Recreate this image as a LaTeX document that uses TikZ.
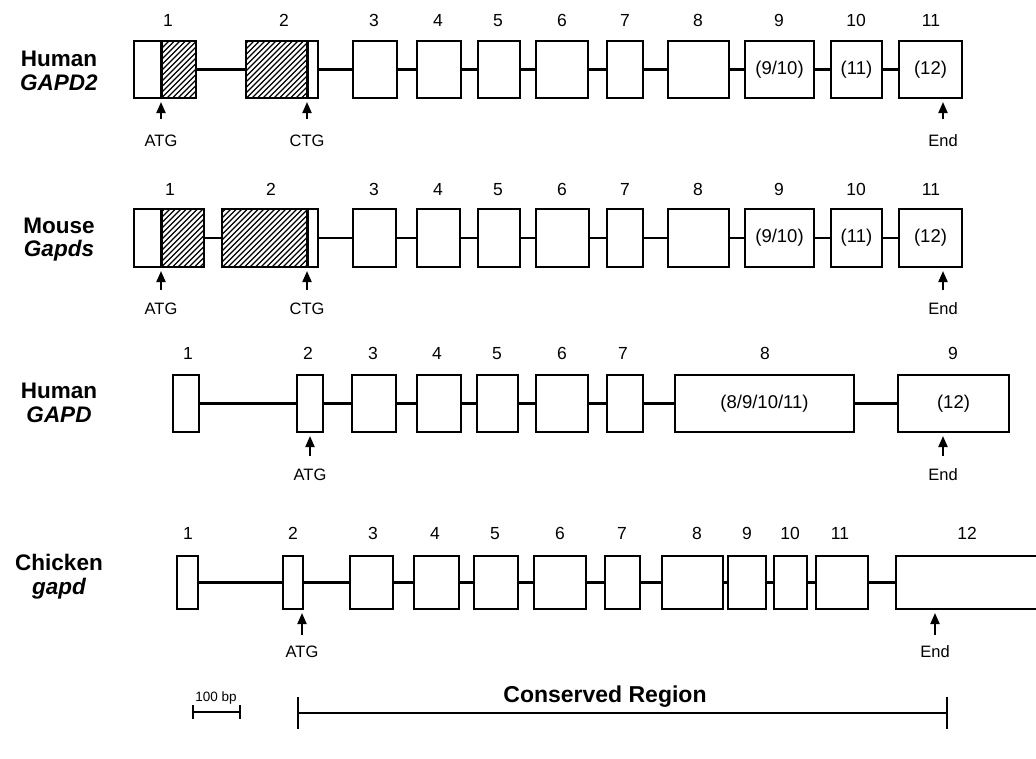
\documentclass[tikz,border=0pt]{standalone}
\usepackage{fontspec}
\setmainfont{Liberation Sans}
\usetikzlibrary{arrows.meta}
\tikzset{
  exon/.style={draw, line width=2pt, inner sep=0pt, font=\fontsize{18.5}{20}\selectfont},
  backbone/.style={line width=2.2pt},
  hatchline/.style={line width=1.2pt},
  divider/.style={line width=3pt},
  num/.style={inner sep=0pt, anchor=base, font=\fontsize{17.5}{20}\selectfont},
  site/.style={inner sep=0pt, font=\fontsize{16.5}{18}\selectfont},
  rowlab/.style={inner sep=0pt, anchor=base, font=\fontsize{22.5}{26}\selectfont\bfseries},
  pointer/.style={line width=2pt, -{Triangle[width=9pt,length=11pt]}},
  scalebar/.style={line width=2pt},
}
\newcommand\exon[6]{\node[exon, minimum width={(#3-#2)*1pt}, minimum height={(#5-#4)*1pt}] (#1) at ({(#2+#3)/2},{(#4+#5)/2}) {#6};}
\newcommand\hatchbox[4]{\begin{scope}\clip (#1,#3) rectangle (#2,#4);
  \foreach \k in {0,...,30}{\draw[hatchline] ({#1-60+5.5*\k},#4) -- ++(60,-60);}\end{scope}}
\begin{document}
\begin{tikzpicture}[x=1pt,y=-1pt]
\useasboundingbox (0,0) rectangle (1036,758);

% ---------------- Row 1: Human GAPD2 ----------------
\node[rowlab] (h1a) at (59,66) {Human};
\node[rowlab] (h1b) at (59,90) {\itshape GAPD2};
\hatchbox{161}{196}{41}{98}
\hatchbox{246}{307}{41}{98}
\exon{a1}{134}{196}{41}{98}{}
\exon{a2}{246}{318}{41}{98}{}
\exon{a3}{353}{397}{41}{98}{}
\exon{a4}{417}{461}{41}{98}{}
\exon{a5}{478}{520}{41}{98}{}
\exon{a6}{536}{588}{41}{98}{}
\exon{a7}{607}{643}{41}{98}{}
\exon{a8}{668}{729}{41}{98}{}
\exon{a9}{745}{814}{41}{98}{(9/10)}
\exon{a10}{831}{882}{41}{98}{(11)}
\exon{a11}{899}{962}{41}{98}{(12)}
\draw[divider] (161,41) -- (161,98);
\draw[divider] (307,41) -- (307,98);
\foreach \i/\j in {a1/a2,a2/a3,a3/a4,a4/a5,a5/a6,a6/a7,a7/a8,a8/a9,a9/a10,a10/a11}
  \draw[backbone] (\i.east) -- (\j.west);
\foreach \n/\x in {1/168,2/284,3/374,4/438,5/498,6/562,7/625,8/698,9/779,10/856,11/931}
  \node[num] (na\n) at (\x,26.5) {\n};
\coordinate (pa1t) at (161,102); \coordinate (pa1s) at (161,119);
\coordinate (pa2t) at (307,102); \coordinate (pa2s) at (307,119);
\coordinate (pa3t) at (943,102); \coordinate (pa3s) at (943,119);
\draw[pointer] (pa1s) -- (pa1t);
\draw[pointer] (pa2s) -- (pa2t);
\draw[pointer] (pa3s) -- (pa3t);
\node[site] (sa1) at (161,141) {ATG};
\node[site] (sa2) at (307,141) {CTG};
\node[site] (sa3) at (943,141) {End};

% ---------------- Row 2: Mouse Gapds ----------------
\node[rowlab] (h2a) at (59,233) {Mouse};
\node[rowlab] (h2b) at (59,256) {\itshape Gapds};
\hatchbox{161}{204}{209}{267}
\hatchbox{222}{307}{209}{267}
\exon{b1}{134}{204}{209}{267}{}
\exon{b2}{222}{318}{209}{267}{}
\exon{b3}{353}{396}{209}{267}{}
\exon{b4}{417}{460}{209}{267}{}
\exon{b5}{478}{520}{209}{267}{}
\exon{b6}{536}{589}{209}{267}{}
\exon{b7}{607}{643}{209}{267}{}
\exon{b8}{668}{729}{209}{267}{}
\exon{b9}{745}{814}{209}{267}{(9/10)}
\exon{b10}{831}{882}{209}{267}{(11)}
\exon{b11}{899}{962}{209}{267}{(12)}
\draw[divider] (161,209) -- (161,267);
\draw[divider] (307,209) -- (307,267);
\foreach \i/\j in {b1/b2,b2/b3,b3/b4,b4/b5,b5/b6,b6/b7,b7/b8,b8/b9,b9/b10,b10/b11}
  \draw[backbone] (\i.east) -- (\j.west);
\foreach \n/\x in {1/170,2/271,3/374,4/438,5/498,6/562,7/625,8/698,9/779,10/856,11/931}
  \node[num] (nb\n) at (\x,195.5) {\n};
\coordinate (pb1t) at (161,271); \coordinate (pb1s) at (161,290);
\coordinate (pb2t) at (307,271); \coordinate (pb2s) at (307,290);
\coordinate (pb3t) at (943,271); \coordinate (pb3s) at (943,290);
\draw[pointer] (pb1s) -- (pb1t);
\draw[pointer] (pb2s) -- (pb2t);
\draw[pointer] (pb3s) -- (pb3t);
\node[site] (sb1) at (161,309) {ATG};
\node[site] (sb2) at (307,309) {CTG};
\node[site] (sb3) at (943,309) {End};

% ---------------- Row 3: Human GAPD ----------------
\node[rowlab] (h3a) at (59,398) {Human};
\node[rowlab] (h3b) at (59,422) {\itshape GAPD};
\exon{c1}{173}{199}{375}{432}{}
\exon{c2}{297}{323}{375}{432}{}
\exon{c3}{352}{396}{375}{432}{}
\exon{c4}{417}{461}{375}{432}{}
\exon{c5}{477}{518}{375}{432}{}
\exon{c6}{536}{588}{375}{432}{}
\exon{c7}{607}{643}{375}{432}{}
\exon{c8}{675}{854}{375}{432}{(8/9/10/11)}
\exon{c9}{898}{1009}{375}{432}{(12)}
\foreach \i/\j in {c1/c2,c2/c3,c3/c4,c4/c5,c5/c6,c6/c7,c7/c8,c8/c9}
  \draw[backbone] (\i.east) -- (\j.west);
\foreach \n/\x in {1/188,2/308,3/373,4/437,5/497,6/562,7/623,8/765,9/953}
  \node[num] (nc\n) at (\x,359.5) {\n};
\coordinate (pc1t) at (310,436); \coordinate (pc1s) at (310,456);
\coordinate (pc2t) at (943,436); \coordinate (pc2s) at (943,456);
\draw[pointer] (pc1s) -- (pc1t);
\draw[pointer] (pc2s) -- (pc2t);
\node[site] (sc1) at (310,475) {ATG};
\node[site] (sc2) at (943,475) {End};

% ---------------- Row 4: Chicken gapd ----------------
\node[rowlab] (h4a) at (59,570) {Chicken};
\node[rowlab] (h4b) at (59,594) {\itshape gapd};
\exon{d1}{177}{198}{556}{609}{}
\exon{d2}{283}{303}{556}{609}{}
\exon{d3}{350}{393}{556}{609}{}
\exon{d4}{414}{459}{556}{609}{}
\exon{d5}{474}{518}{556}{609}{}
\exon{d6}{534}{586}{556}{609}{}
\exon{d7}{605}{640}{556}{609}{}
\exon{d8}{662}{723}{556}{609}{}
\exon{d9}{728}{766}{556}{609}{}
\exon{d10}{774}{807}{556}{609}{}
\exon{d11}{816}{868}{556}{609}{}
\coordinate (d12w) at (896,582.5);
\draw[line width=2pt] (1037,556) -- (896,556) -- (896,609) -- (1037,609);
\foreach \i/\j in {d1/d2,d2/d3,d3/d4,d4/d5,d5/d6,d6/d7,d7/d8,d8/d9,d9/d10,d10/d11}
  \draw[backbone] (\i.east) -- (\j.west);
\draw[backbone] (d11.east) -- (d12w);
\foreach \n/\x in {1/188,2/293,3/373,4/435,5/495,6/560,7/622,8/697,9/747,10/790,11/840,12/967}
  \node[num] (nd\n) at (\x,539.5) {\n};
\coordinate (pd1t) at (302,613); \coordinate (pd1s) at (302,635);
\coordinate (pd2t) at (935,613); \coordinate (pd2s) at (935,635);
\draw[pointer] (pd1s) -- (pd1t);
\draw[pointer] (pd2s) -- (pd2t);
\node[site] (sd1) at (302,652) {ATG};
\node[site] (sd2) at (935,652) {End};

% ---------------- Scale and conserved region ----------------
\node[inner sep=0pt, font=\fontsize{13.5}{15}\selectfont] (bp) at (216,698) {100 bp};
\draw[scalebar] (193,712) -- (240,712);
\draw[scalebar] (193,705) -- (193,719);
\draw[scalebar] (240,705) -- (240,719);
\node[inner sep=0pt, font=\fontsize{23}{26}\selectfont\bfseries] (cr) at (605,697) {Conserved Region};
\coordinate (crl) at (298,713); \coordinate (crr) at (947,713);
\draw[scalebar] (crl) -- (crr);
\draw[scalebar] (298,697) -- (298,729);
\draw[scalebar] (947,697) -- (947,729);
\end{tikzpicture}
\end{document}
